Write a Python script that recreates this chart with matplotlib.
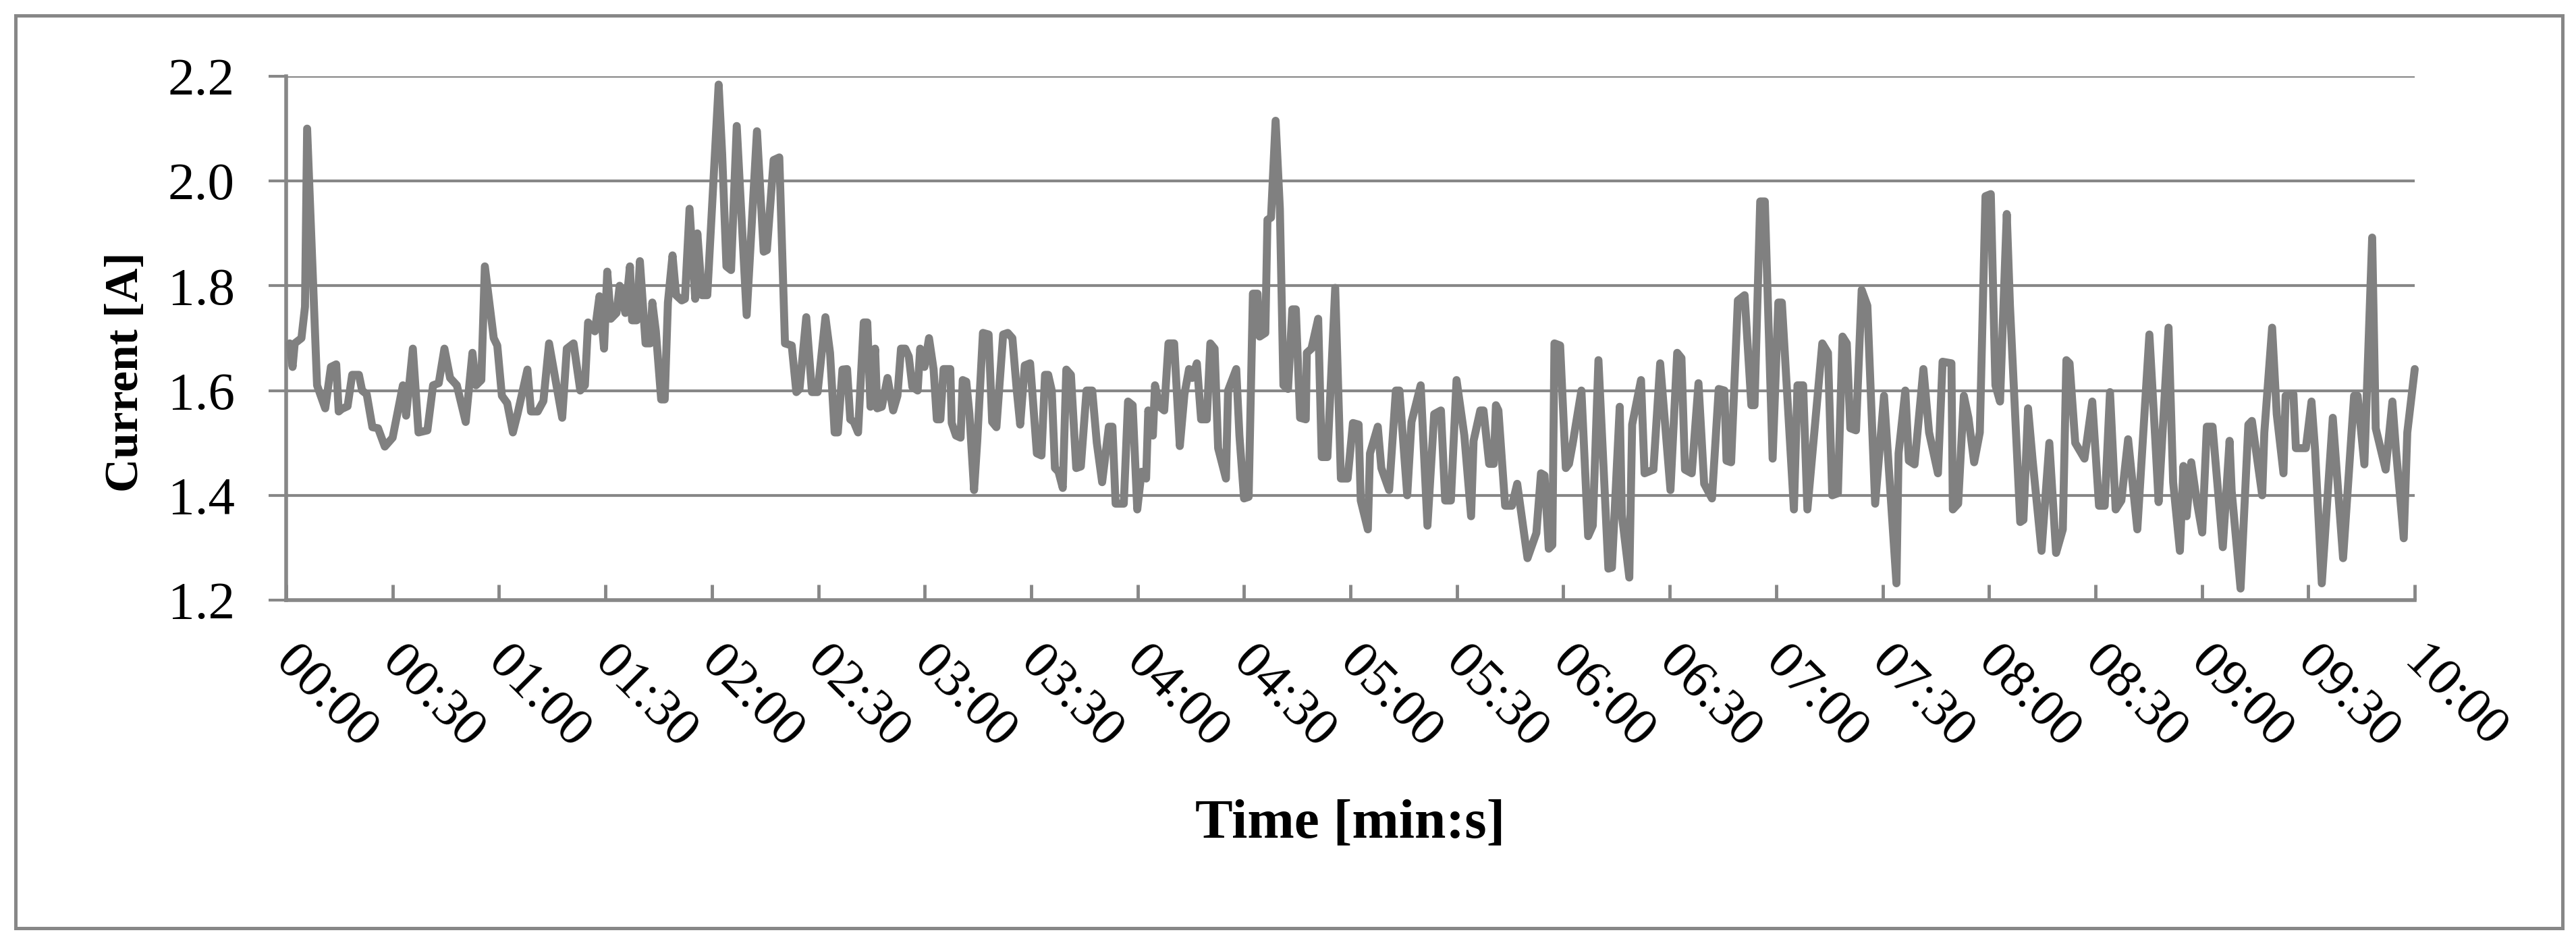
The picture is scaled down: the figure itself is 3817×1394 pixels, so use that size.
import matplotlib
matplotlib.use("Agg")
import matplotlib.pyplot as plt
from matplotlib.patches import Rectangle
from matplotlib.transforms import ScaledTranslation

# data: time in seconds, current in A
seconds = [1.0, 1.8, 2.4, 4.3, 5.3, 5.9, 8.7, 11.0, 12.6, 14.1, 14.8, 15.7, 17.3, 18.6, 20.5, 21.4, 22.7,
           24.3, 25.9, 27.8, 30.0, 32.9, 33.8, 35.7, 37.3, 39.8, 41.4, 43.0, 44.6, 46.2, 48.1, 50.6, 52.5,
           53.5, 55.0, 56.0, 58.5, 59.5, 60.8, 62.3, 63.9, 65.2, 68.0, 69.0, 70.9, 72.5, 74.1,
           77.8, 79.1, 81.0, 82.9, 84.2, 85.1, 87.0, 88.3, 89.6, 90.5, 91.5, 93.1, 94.0, 95.6, 96.9, 97.5,
           98.8, 99.7, 101.3, 102.6, 103.2, 104.2, 105.7, 106.7, 107.6, 108.9, 109.9, 111.5, 112.4, 113.7,
           115.3, 115.9, 117.2, 118.7, 121.9, 122.9, 124.1, 125.4, 127.0, 129.8, 132.7, 134.6, 135.5,
           137.4, 139.0, 140.6, 142.5, 143.8, 144.7, 146.6, 148.2, 149.8,
           152.0, 153.3, 154.6, 155.5, 156.8, 158.1, 159.0, 160.0, 161.2, 162.8, 163.8, 164.7, 166.0, 166.6,
           167.9, 169.5, 171.1, 172.3, 173.3, 174.5, 175.5, 176.5, 178.0, 178.7, 179.9, 181.2, 182.5, 183.4,
           184.4, 185.3, 187.2, 187.6, 188.8, 190.1, 190.7, 191.7, 192.6, 193.9, 194.8, 196.4, 198.0, 199.0,
           200.2, 202.1, 203.4, 204.7, 205.9, 206.9, 208.2, 209.7, 210.4, 211.6, 212.9, 213.9, 214.8, 215.8,
           216.7, 217.7, 218.9, 219.9, 221.2, 222.7, 224.0,
           225.6, 227.2, 228.5, 230.0, 231.9, 232.9, 233.8, 236.1, 237.3, 238.6, 239.9, 241.1, 242.4, 243.0,
           244.3, 244.9, 246.2, 247.5, 248.7, 250.3, 251.9, 253.2, 254.5, 255.4, 256.7, 257.9, 259.5, 260.5,
           261.7, 262.7, 264.9, 265.5, 267.8, 268.7, 270.0, 271.3, 272.5, 273.8, 274.4, 276.0, 276.6, 277.6,
           278.9, 280.1, 281.1, 282.4, 283.6, 284.6, 285.8, 287.4, 287.7, 289.0, 290.9, 291.9, 293.5, 295.7,
           297.3, 299.2, 300.7, 302.3, 302.9,
           304.9, 305.5, 307.7, 308.7, 310.9, 312.8, 313.8, 316.0, 317.2, 319.8, 321.7, 323.6, 325.5, 326.7,
           328.3, 329.9, 332.1, 334.0, 334.7, 336.6, 337.5, 339.1, 340.4, 341.0, 341.7, 343.6, 345.5, 347.0,
           349.9, 352.4, 353.7, 354.7, 355.9, 356.9, 357.5, 359.1, 360.7, 361.6, 362.6, 365.1, 367.0, 368.3,
           369.9, 372.7, 373.7, 375.9, 376.5, 378.6,
           379.4, 381.9, 382.9, 385.4, 387.3, 390.2, 392.1, 393.3, 394.3, 396.2, 398.1, 399.7, 401.9, 403.8,
           405.4, 406.0, 407.3, 409.2, 411.1, 413.0, 413.9, 415.5, 416.8, 419.0, 420.6, 421.6, 425.0, 426.0,
           427.6, 428.8, 433.0, 434.6, 435.8, 437.4, 438.7, 439.9, 440.9, 442.5, 444.1, 445.7, 447.9, 450.4,
           453.9,
           454.5, 456.4, 457.4, 459.0, 461.5, 463.1, 465.6, 466.9, 469.4, 469.8, 471.3, 472.9, 474.2, 475.8,
           477.4, 479.0, 480.5, 481.8, 483.1, 485.0, 485.9, 488.8, 489.7, 491.0, 492.3, 494.8, 497.0, 498.9,
           500.8, 501.8, 502.7, 504.3, 506.9, 509.1, 511.0, 512.6, 514.1, 515.7, 517.3, 519.2, 521.8, 525.2,
           526.8, 527.8, 530.6,
           531.9, 533.8, 534.8, 535.7, 537.0, 538.6, 540.1, 541.4, 543.0, 545.9, 547.8, 548.4, 550.9, 553.1,
           554.1, 557.0, 557.6, 559.8, 561.1, 563.0, 563.6, 565.8, 566.5, 569.3, 570.9, 571.9, 573.8, 576.9,
           579.8, 582.9, 583.9, 585.8, 588.0, 589.0, 591.8, 593.7, 594.7, 596.9, 597.9, 600.0]

current = [1.69, 1.645, 1.69, 1.70, 1.76, 2.10, 1.61, 1.566, 1.645, 1.65, 1.56, 1.565, 1.57, 1.63, 1.63, 1.60, 1.593,
           1.53, 1.528, 1.493, 1.51, 1.61, 1.552, 1.68, 1.52, 1.524, 1.61, 1.614, 1.68, 1.624, 1.61, 1.54, 1.672,
           1.61, 1.62, 1.837, 1.70, 1.686, 1.59, 1.576, 1.52, 1.555, 1.64, 1.56, 1.56, 1.58, 1.69,
           1.548, 1.68, 1.69, 1.60, 1.61, 1.73, 1.713, 1.78, 1.68, 1.827, 1.737, 1.748, 1.80, 1.748, 1.837, 1.734,
           1.734, 1.847, 1.69, 1.69, 1.768, 1.713, 1.583, 1.583, 1.768, 1.858, 1.782, 1.772, 1.775, 1.947,
           1.775, 1.90, 1.782, 1.782, 2.184, 2.05, 1.837, 1.83, 2.105, 1.744, 2.095, 1.865, 1.868,
           2.04, 2.045, 1.69, 1.686, 1.597, 1.603, 1.74, 1.597, 1.597,
           1.74, 1.672, 1.52, 1.52, 1.64, 1.641, 1.545, 1.54, 1.52, 1.73, 1.73, 1.569, 1.68, 1.566,
           1.569, 1.624, 1.562, 1.59, 1.68, 1.68, 1.665, 1.607, 1.60, 1.68, 1.645, 1.70, 1.64, 1.545,
           1.545, 1.641, 1.641, 1.538, 1.514, 1.51, 1.62, 1.617, 1.555, 1.41, 1.504, 1.71, 1.707, 1.54,
           1.53, 1.707, 1.71, 1.70, 1.603, 1.535, 1.648, 1.652, 1.59, 1.48, 1.476, 1.63, 1.63, 1.60,
           1.452, 1.445, 1.414, 1.64, 1.63, 1.452, 1.455,
           1.60, 1.60, 1.50, 1.425, 1.531, 1.531, 1.384, 1.384, 1.579, 1.572, 1.373, 1.445, 1.432, 1.562,
           1.514, 1.61, 1.569, 1.562, 1.69, 1.69, 1.494, 1.593, 1.641, 1.624, 1.652, 1.545, 1.545, 1.69,
           1.68, 1.49, 1.432, 1.60, 1.641, 1.514, 1.394, 1.397, 1.785, 1.785, 1.703, 1.71, 1.926, 1.93,
           2.115, 1.947, 1.61, 1.603, 1.755, 1.755, 1.548, 1.545, 1.672, 1.68, 1.737, 1.473, 1.473, 1.796,
           1.432, 1.432, 1.538, 1.535, 1.39,
           1.335, 1.48, 1.531, 1.452, 1.41, 1.60, 1.60, 1.40, 1.54, 1.61, 1.342, 1.555, 1.562, 1.39,
           1.39, 1.62, 1.514, 1.36, 1.504, 1.562, 1.562, 1.46, 1.46, 1.572, 1.562, 1.38, 1.38, 1.422,
           1.28, 1.328, 1.442, 1.438, 1.298, 1.305, 1.69, 1.686, 1.452, 1.46, 1.497, 1.60, 1.322, 1.342,
           1.658, 1.26, 1.262, 1.569, 1.363, 1.243,
           1.535, 1.62, 1.442, 1.449, 1.652, 1.41, 1.672, 1.662, 1.449, 1.442, 1.614, 1.422, 1.394, 1.603,
           1.60, 1.466, 1.463, 1.772, 1.782, 1.572, 1.572, 1.961, 1.961, 1.47, 1.768, 1.768, 1.373, 1.61,
           1.61, 1.373, 1.69, 1.672, 1.40, 1.404, 1.703, 1.69, 1.528, 1.524, 1.792, 1.762, 1.384, 1.59,
           1.232,
           1.48, 1.60, 1.466, 1.459, 1.641, 1.52, 1.442, 1.655, 1.652, 1.373, 1.384, 1.59, 1.548, 1.463,
           1.52, 1.971, 1.975, 1.61, 1.579, 1.937, 1.762, 1.349, 1.353, 1.566, 1.466, 1.294, 1.50, 1.29,
           1.335, 1.658, 1.652, 1.50, 1.47, 1.579, 1.38, 1.38, 1.597, 1.373, 1.39, 1.507, 1.335, 1.707,
           1.514, 1.387, 1.72,
           1.425, 1.294, 1.456, 1.36, 1.463, 1.387, 1.329, 1.531, 1.531, 1.301, 1.504, 1.408, 1.222, 1.535,
           1.542, 1.40, 1.52, 1.72, 1.555, 1.442, 1.59, 1.593, 1.49, 1.49, 1.579, 1.487, 1.232, 1.548,
           1.28, 1.59, 1.59, 1.459, 1.892, 1.528, 1.449, 1.579, 1.487, 1.318, 1.52, 1.641]

tick_seconds = list(range(0, 601, 30))
tick_labels = ['%02d:%02d' % (s // 60, s % 60) for s in tick_seconds]
y_ticks = [1.2, 1.4, 1.6, 1.8, 2.0, 2.2]

grey = '#878787'
plt.rcParams['font.family'] = ['Liberation Serif', 'DejaVu Serif']

fig = plt.figure(figsize=(38.17, 13.94), dpi=100)
ax = fig.add_axes([0.1111, 0.3623, 0.8263, 0.5567])

ax.plot(seconds, current, color='#808080', lw=8.5, solid_joinstyle='round',
        solid_capstyle='round', zorder=3, clip_on=False)

ax.set_xlim(0, 600)
ax.set_ylim(1.2, 2.2)
ax.set_yticks(y_ticks)
ax.set_yticklabels(['%.1f' % v for v in y_ticks])
ax.set_xticks(tick_seconds)
ax.set_xticklabels(tick_labels)

ax.yaxis.grid(True, color=grey, lw=3)
ax.set_axisbelow(True)
for side in ['top', 'right']:
    ax.spines[side].set_visible(False)
for side in ['left', 'bottom']:
    ax.spines[side].set_color(grey)
    ax.spines[side].set_linewidth(4)

ax.tick_params(axis='x', direction='in', length=16.5, width=3.5, color=grey,
               labelsize=57, pad=40)
ax.tick_params(axis='y', direction='out', length=19, width=3, color=grey,
               labelsize=57, pad=36)

# rotated time labels, hanging down to the right of each tick
offset = ScaledTranslation(0.2, 0, fig.dpi_scale_trans)
for lbl in ax.get_xticklabels():
    lbl.set_rotation(-45)
    lbl.set_ha('left')
    lbl.set_va('top')
    lbl.set_rotation_mode('anchor')
    lbl.set_transform(lbl.get_transform() + offset)

ax.set_ylabel('Current [A]', fontsize=50, fontweight='bold', va='center')
ax.yaxis.set_label_coords(-0.0751, 0.4356)
ax.set_xlabel('Time [min:s]', fontsize=60, fontweight='bold', va='top')
ax.xaxis.set_label_coords(0.5, -0.38)

# chart area border
fig.patches.append(Rectangle((0.006, 0.0136), 0.9887, 0.9699, transform=fig.transFigure,
                             fill=False, ec=grey, lw=3.6))

fig.savefig('out.png', dpi=100)
